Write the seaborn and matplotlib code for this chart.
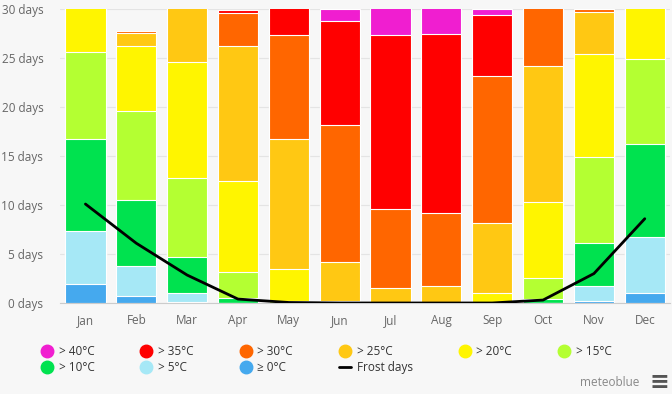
import numpy as np
import matplotlib
matplotlib.use("Agg")
import matplotlib.pyplot as plt
from matplotlib.lines import Line2D
import seaborn as sns

# ----------------------------------------------------------------------
# Data (days per month)
# ----------------------------------------------------------------------
months = ["Jan", "Feb", "Mar", "Apr", "May", "Jun",
          "Jul", "Aug", "Sep", "Oct", "Nov", "Dec"]

ge0 = [1.9, 0.7, 0.15, 0, 0, 0, 0, 0, 0, 0, 0.2, 1.05]
gt5 = [5.4, 3.1, 0.85, 0, 0, 0, 0, 0, 0, 0, 1.5, 5.65]
gt10 = [9.4, 6.7, 3.7, 0.55, 0, 0, 0, 0, 0, 0.45, 4.4, 9.5]
gt15 = [8.9, 9.1, 8.1, 2.65, 0.2, 0, 0, 0, 0, 2.05, 8.8, 8.7]
gt20 = [5.4, 6.6, 11.8, 9.3, 3.3, 0.2, 0, 0, 1.0, 7.8, 10.5, 6.1]
gt25 = [0, 1.4, 6.4, 13.7, 13.2, 4.0, 1.5, 1.7, 7.2, 13.9, 4.3, 0]
gt30 = [0, 0.2, 0, 3.4, 10.7, 14.0, 8.1, 7.5, 15.0, 6.8, 0.3, 0]
gt35 = [0, 0, 0, 0.3, 3.6, 10.6, 17.8, 18.3, 6.2, 0, 0, 0]
gt40 = [0, 0, 0, 0, 0, 1.2, 3.6, 3.5, 0.6, 0, 0, 0]

frost_days = [10.1, 6.1, 2.85, 0.4, 0.05, 0, 0, 0, 0, 0.3, 3.0, 8.6]

# bottom -> top
layers = [
    ("≥ 0°C", ge0, "#45a9ee"),
    ("> 5°C", gt5, "#a6e8f6"),
    ("> 10°C", gt10, "#00e24f"),
    ("> 15°C", gt15, "#b4ff32"),
    ("> 20°C", gt20, "#fff500"),
    ("> 25°C", gt25, "#ffc813"),
    ("> 30°C", gt30, "#ff6600"),
    ("> 35°C", gt35, "#ff0000"),
    ("> 40°C", gt40, "#f01ed0"),
]

# ----------------------------------------------------------------------
# Plot
# ----------------------------------------------------------------------
sns.set_style("white")
plt.rcParams["font.family"] = ["Open Sans", "DejaVu Sans"]

bg = "#f7f7f7"
fig = plt.figure(figsize=(6.72, 3.94), dpi=100, facecolor=bg)
ax = fig.add_axes([0.0893, 0.231, 0.908, 0.746])
ax.set_facecolor(bg)

# stacked bars: draw cumulative totals from the top layer down
cum = np.cumsum([np.array(v, dtype=float) for _, v, _ in layers], axis=0)
for i in range(len(layers) - 1, -1, -1):
    sns.barplot(x=months, y=cum[i], color=layers[i][2], saturation=1,
                width=0.79, edgecolor="white", linewidth=0.8, ax=ax, zorder=2)

sns.lineplot(x=np.arange(len(months)), y=frost_days, color="black",
             linewidth=2, ax=ax, zorder=3)

ax.set_ylim(0, 30)
ax.set_xlim(-0.5, len(months) - 0.5)
ax.set_yticks(range(0, 31, 5))
ax.set_yticklabels([f"{t} days" for t in range(0, 31, 5)])
ax.set_xlabel("")
ax.set_ylabel("")
ax.tick_params(axis="both", length=0, labelsize=8.5, colors="#666666")
ax.tick_params(axis="x", pad=8)
ax.tick_params(axis="y", pad=12)
ax.grid(axis="y", color="#e4e4e4", linewidth=0.8, zorder=0)
ax.set_axisbelow(True)
for s in ["top", "right", "left"]:
    ax.spines[s].set_visible(False)
ax.spines["bottom"].set_color("#cccccc")
ax.spines["bottom"].set_linewidth(0.8)

# legend (column-major order to get the two-row layout)
handles = {}
for name, _, color in layers:
    handles[name] = Line2D([], [], marker="o", linestyle="none",
                           markersize=9, markerfacecolor=color,
                           markeredgecolor=color)
handles["Frost days"] = Line2D([], [], color="black", linewidth=2)
order = ["> 40°C", "> 10°C", "> 35°C", "> 5°C", "> 30°C", "≥ 0°C",
         "> 25°C", "Frost days", "> 20°C", "> 15°C"]
fig.legend([handles[k] for k in order], order, ncol=6,
           loc="upper left", bbox_to_anchor=(0.045, 0.152),
           frameon=False, fontsize=8.5, handlelength=1.0,
           handletextpad=0.5, columnspacing=3.9, labelspacing=0.3,
           labelcolor="#333333")

fig.text(0.952, 0.029, "meteoblue", ha="right", va="center",
         fontsize=8.5, color="#888888")
fig.text(0.981, 0.031, "≡", ha="center", va="center",
         fontsize=17, color="#555555", family=["DejaVu Sans"],
         fontweight="bold")

plt.savefig("out.png", dpi=100, facecolor=bg)
